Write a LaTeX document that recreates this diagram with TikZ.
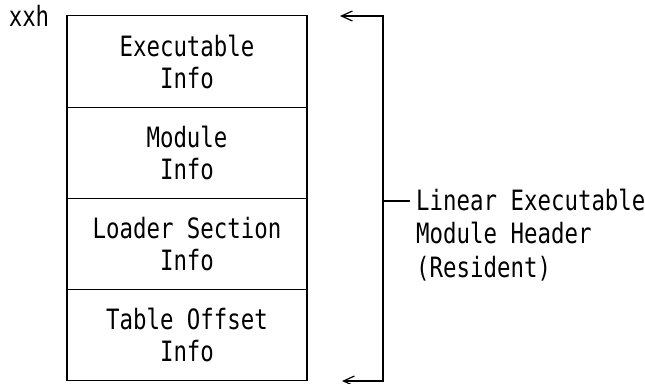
\documentclass[tikz,border=0pt]{standalone}
\usepackage{fontspec}
\setmonofont[FakeStretch=0.8]{DejaVu Sans Mono}
\usetikzlibrary{positioning,arrows.meta}

\begin{document}
\begin{tikzpicture}[
	x=1pt, y=-1pt,
	infobox/.style={ draw, line width=1.2pt, outer sep=0pt, inner sep=0pt, minimum width=240pt, minimum height=91.25pt, align=center, font=\ttfamily\fontsize{28}{32}\selectfont },
	lbl/.style={ inner sep=0pt, align=left, font=\ttfamily\fontsize{28}{32}\selectfont },
	brack/.style={ line width=1.2pt, {Straight Barb[length=11pt,width=10pt]}-{Straight Barb[length=11pt,width=10pt]} }
]
\useasboundingbox (0,0) rectangle (645,383);

\node[infobox] at (187,61.5) (execinfo) {Executable\\Info};
\node[infobox, below=0pt of execinfo] (modinfo) {Module\\Info};
\node[infobox, below=0pt of modinfo] (loaderinfo) {Loader Section\\Info};
\node[infobox, below=0pt of loaderinfo] (tableinfo) {Table Offset\\Info};
\node[lbl] at (29,16) (xxh) {xxh};

\coordinate (toptip) at (340,16);
\coordinate (brtop) at (383,16);
\coordinate (brmid) at (383,201);
\coordinate (brbot) at (383,381);
\coordinate (bottip) at (342,381);
\draw[brack] (toptip) -- (brtop) -- (brbot) -- (bottip);

\node[lbl, anchor=west, inner xsep=6pt] at (410,235) (header) {Linear Executable\\[1.5pt]Module Header\\[1.5pt](Resident)};
\draw[line width=1.2pt] (brmid) -- (header.west |- brmid);

\end{tikzpicture}
\end{document}
